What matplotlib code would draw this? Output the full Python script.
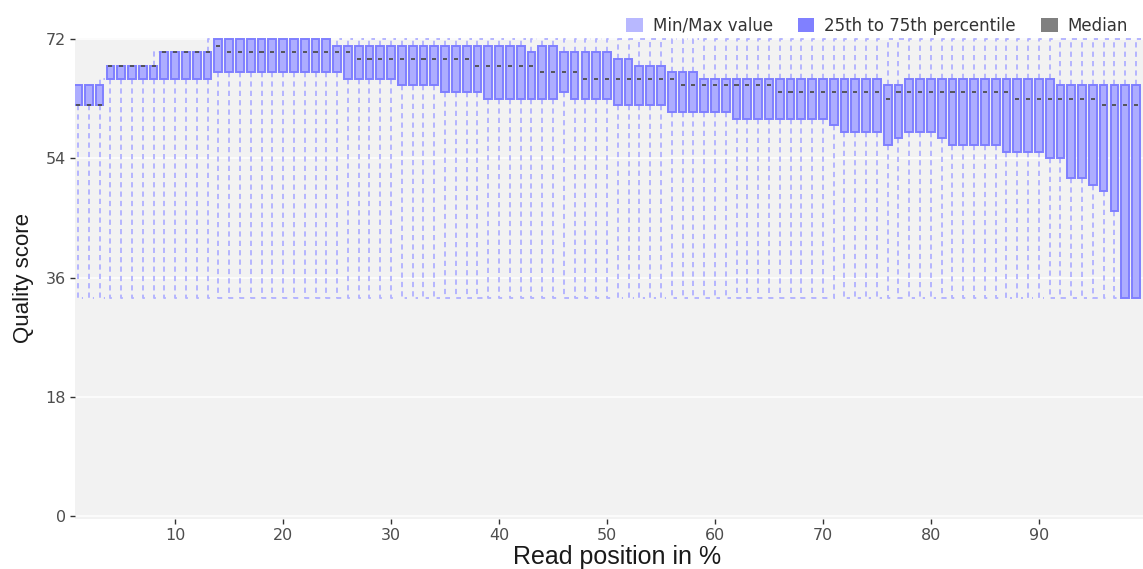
import numpy as np
import matplotlib
matplotlib.use("Agg")
import matplotlib.pyplot as plt
from matplotlib.patches import Patch

# read position (percent of read length)
positions = list(range(1, 100))

q1 = [62, 62, 62, 66, 66, 66, 66, 66, 66, 66,
      66, 66, 66, 67, 67, 67, 67, 67, 67, 67,
      67, 67, 67, 67, 67, 66, 66, 66, 66, 66,
      65, 65, 65, 65, 64, 64, 64, 64, 63, 63,
      63, 63, 63, 63, 63, 64, 63, 63, 63, 63,
      62, 62, 62, 62, 62, 61, 61, 61, 61, 61,
      61, 60, 60, 60, 60, 60, 60, 60, 60, 60,
      59, 58, 58, 58, 58, 56, 57, 58, 58, 58,
      57, 56, 56, 56, 56, 56, 55, 55, 55, 55,
      54, 54, 51, 51, 50, 49, 46, 33, 33]

median = [62, 62, 62, 68, 68, 68, 68, 68, 70, 70,
          70, 70, 70, 71, 70, 70, 70, 70, 70, 70,
          70, 70, 70, 70, 70, 70, 69, 69, 69, 69,
          69, 69, 69, 69, 69, 69, 69, 68, 68, 68,
          68, 68, 68, 67, 67, 67, 67, 66, 66, 66,
          66, 66, 66, 66, 66, 66, 65, 65, 65, 65,
          65, 65, 65, 65, 65, 64, 64, 64, 64, 64,
          64, 64, 64, 64, 64, 63, 64, 64, 64, 64,
          64, 64, 64, 64, 64, 64, 64, 63, 63, 63,
          63, 63, 63, 63, 63, 62, 62, 62, 62]

q3 = [65, 65, 65, 68, 68, 68, 68, 68, 70, 70,
      70, 70, 70, 72, 72, 72, 72, 72, 72, 72,
      72, 72, 72, 72, 71, 71, 71, 71, 71, 71,
      71, 71, 71, 71, 71, 71, 71, 71, 71, 71,
      71, 71, 70, 71, 71, 70, 70, 70, 70, 70,
      69, 69, 68, 68, 68, 67, 67, 67, 66, 66,
      66, 66, 66, 66, 66, 66, 66, 66, 66, 66,
      66, 66, 66, 66, 66, 65, 65, 66, 66, 66,
      66, 66, 66, 66, 66, 66, 66, 66, 66, 66,
      66, 65, 65, 65, 65, 65, 65, 65, 65]

max_val = [65, 65, 66, 68, 68, 68, 68, 70, 70, 70,
           70, 70] + [72] * 87
min_val = [33] * 99

y_ticks = [0, 18, 36, 54, 72]
x_ticks = [10, 20, 30, 40, 50, 60, 70, 80, 90]

WHISKER = "#b3b3ff"
BOX_FACE = "#adadff"
BOX_EDGE = "#7f7fff"
MEDIAN = "#4d4d4d"

fig = plt.figure(figsize=(11.43, 5.69), dpi=100)
ax = fig.add_axes([0.0656, 0.0879, 0.9344, 0.8453])
ax.set_facecolor("#f2f2f2")
for s in ax.spines.values():
    s.set_visible(False)

for y in y_ticks:
    ax.axhline(y, color="white", lw=1.1, zorder=0)

# whiskers: dashed stem from the box out to min / max, with a short cap
dash = (0, (2.8, 2.2))
x = np.array(positions, dtype=float)
for xi, lo, b, t, hi in zip(x, min_val, q1, q3, max_val):
    if lo < b:
        ax.plot([xi, xi, xi + 0.5], [b, lo, lo], color=WHISKER, lw=1.35,
                linestyle=dash, zorder=1)
    if hi > t:
        ax.plot([xi, xi, xi + 0.5], [t, hi, hi], color=WHISKER, lw=1.35,
                linestyle=dash, zorder=1)

q1a = np.array(q1)
q3a = np.array(q3)
ax.bar(x, q3a - q1a, bottom=q1a, width=0.72, color=BOX_FACE,
       edgecolor=BOX_EDGE, linewidth=1.4, zorder=2)
ax.hlines(median, x - 0.19, x + 0.19, color=MEDIAN, lw=1.3, zorder=3)

ax.set_xlim(0.72, 99.65)
ax.set_ylim(-0.4, 72.15)
ax.set_xticks(x_ticks)
ax.set_yticks(y_ticks)
ax.tick_params(axis="both", length=3.5, width=1, color="#333333",
               labelcolor="#4d4d4d", labelsize=11.5, pad=3)

ax.set_xlabel("Read position in %", fontsize=18, color="#1a1a1a",
              family="Liberation Sans", va="top")
ax.xaxis.set_label_coords(0.5075, -0.055)
ax.set_ylabel("Quality score", fontsize=16, color="#1a1a1a",
              family="Liberation Sans", labelpad=8)

handles = [Patch(facecolor="#b8b8ff", edgecolor="none", label="Min/Max value"),
           Patch(facecolor="#8080ff", edgecolor="none", label="25th to 75th percentile"),
           Patch(facecolor="#808080", edgecolor="none", label="Median")]
fig.legend(handles=handles, loc="upper right", bbox_to_anchor=(1.0, 0.997),
           ncol=3, frameon=False, fontsize=12, handlelength=1.0,
           handleheight=1.0, handletextpad=0.6, columnspacing=1.5,
           labelcolor="#333333")

fig.savefig("out.png", dpi=100)
